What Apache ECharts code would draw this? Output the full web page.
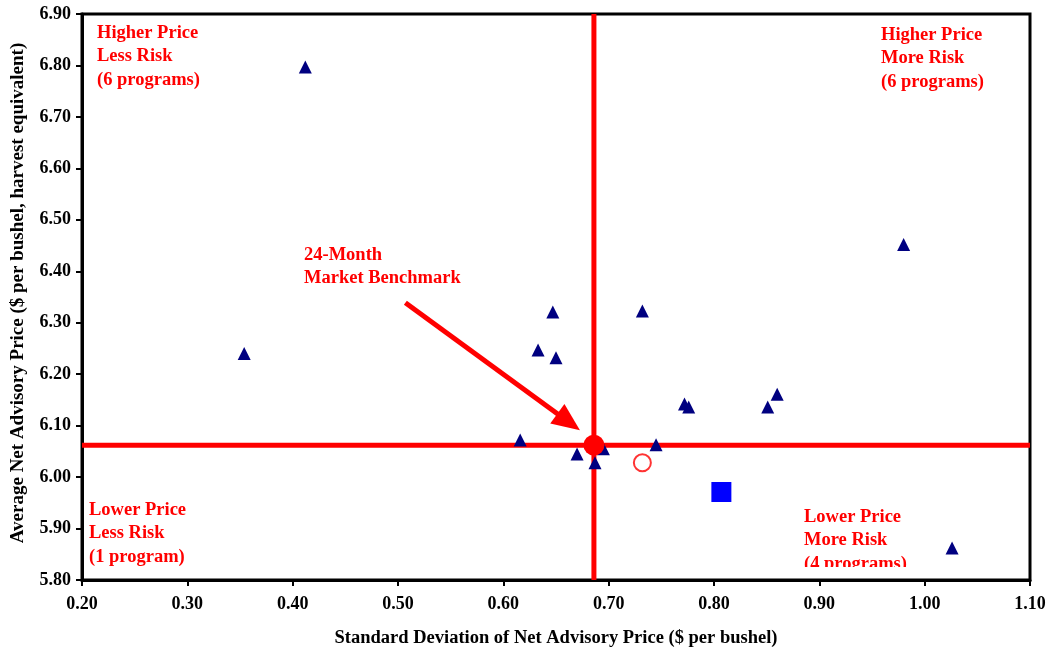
<!DOCTYPE html>
<html>
<head>
<meta charset="utf-8">
<script src="https://cdn.jsdelivr.net/npm/echarts@6/dist/echarts.min.js"></script>
<style>
html,body{margin:0;padding:0;background:#fff;}
#chart{width:1052px;height:654px;}
</style>
</head>
<body>
<div id="chart"></div>
<script>
// ---- data ----
const programX = [0.412, 0.354, 0.647, 0.633, 0.650, 0.616, 0.980, 0.732, 0.772, 0.776, 0.851, 0.860, 0.670, 1.026, 0.687, 0.695, 0.745];
const programY = [6.797, 6.240, 6.321, 6.247, 6.232, 6.072, 6.452, 6.323, 6.142, 6.136, 6.136, 6.161, 6.045, 5.862, 6.028, 6.055, 6.063];
const benchmarkX = [0.686];
const benchmarkY = [6.062];
const openCircleX = [0.732];
const openCircleY = [6.028];
const squareX = [0.807];
const squareY = [5.971];
const arrowFrom = [0.507, 6.339];
const arrowTo = [0.662, 6.107];
const xTicks = [0.2, 0.3, 0.4, 0.5, 0.6, 0.7, 0.8, 0.9, 1.0, 1.1];
const yTicks = [5.8, 5.9, 6.0, 6.1, 6.2, 6.3, 6.4, 6.5, 6.6, 6.7, 6.8, 6.9];
const xTitle = 'Standard Deviation of Net Advisory Price ($ per bushel)';
const yTitle = 'Average Net Advisory Price ($ per bushel, harvest equivalent)';
const quadrantHL = 'Higher Price\nLess Risk\n(6 programs)';
const quadrantHM = 'Higher Price\nMore Risk\n(6 programs)';
const quadrantLL = 'Lower Price\nLess Risk\n(1 program)';
const quadrantLM = 'Lower Price\nMore Risk\n(4 programs)';
const benchLabel = '24-Month\nMarket Benchmark';

const zip = (a, b) => a.map((v, i) => [v, b[i]]);
const FONT = '"Liberation Serif", "Times New Roman", serif';
const RED = '#FF0000';
const xMin = xTicks[0], xMax = xTicks[xTicks.length - 1];
const yMin = yTicks[0], yMax = yTicks[yTicks.length - 1];

const chart = echarts.init(document.getElementById('chart'), null, {renderer: 'canvas'});

const redText = (txt, x, y) => ({
  type: 'text', left: x, top: y, z: 50,
  style: {text: txt, fill: RED, font: 'bold 18.5px ' + FONT, lineHeight: 23.5}
});

const refLine = (data) => ({
  type: 'line', data: data, z: 1, silent: true, symbol: 'none',
  lineStyle: {color: RED, width: 5}, animation: false
});

chart.setOption({
  animation: false,
  backgroundColor: '#fff',
  grid: {left: 82, right: 22, top: 14, bottom: 74, show: true, borderColor: '#000', borderWidth: 3, backgroundColor: 'transparent'},
  xAxis: {
    type: 'value', min: xMin, max: xMax, interval: 0.1,
    axisLine: {show: true, onZero: false, lineStyle: {color: '#000', width: 3}},
    axisTick: {show: true, inside: false, length: 6, lineStyle: {color: '#000', width: 2}},
    splitLine: {show: false},
    axisLabel: {margin: 15, color: '#000', fontFamily: FONT, fontWeight: 'bold', fontSize: 18, formatter: v => v.toFixed(2)}
  },
  yAxis: {
    type: 'value', min: yMin, max: yMax, interval: 0.1,
    axisLine: {show: true, onZero: false, lineStyle: {color: '#000', width: 3}},
    axisTick: {show: true, inside: false, length: 6, lineStyle: {color: '#000', width: 2}},
    splitLine: {show: false},
    axisLabel: {margin: 11, color: '#000', fontFamily: FONT, fontWeight: 'bold', fontSize: 18, formatter: v => v.toFixed(2)}
  },
  series: [
    refLine([[benchmarkX[0], yMin], [benchmarkX[0], yMax]]),
    refLine([[xMin, benchmarkY[0]], [xMax, benchmarkY[0]]]),
    {
      type: 'scatter', name: 'programs', z: 3,
      symbol: 'triangle', symbolSize: 13,
      itemStyle: {color: '#000080', opacity: 1},
      data: zip(programX, programY)
    },
    {
      type: 'scatter', name: 'open', z: 3,
      symbol: 'emptyCircle', symbolSize: 17,
      itemStyle: {color: RED, borderColor: RED, borderWidth: 1.5},
      data: zip(openCircleX, openCircleY)
    },
    {
      type: 'scatter', name: 'square', z: 3,
      symbol: 'rect', symbolSize: 20,
      itemStyle: {color: '#0000FF', opacity: 1},
      data: zip(squareX, squareY)
    },
    {
      type: 'scatter', name: 'benchmark', z: 4,
      symbol: 'circle', symbolSize: 21,
      itemStyle: {color: RED, opacity: 1},
      data: zip(benchmarkX, benchmarkY),
      markLine: {
        silent: true, animation: false,
        symbol: ['none', 'triangle'], symbolSize: [24, 28],
        label: {show: false},
        lineStyle: {color: RED, width: 5, type: 'solid'},
        emphasis: {disabled: true},
        data: [[{coord: arrowFrom}, {coord: arrowTo}]]
      }
    }
  ],
  graphic: [
    redText(quadrantHL, 97, 21),
    redText(quadrantHM, 881, 23),
    redText(quadrantLL, 89, 498),
    redText(quadrantLM, 804, 505),
    {type: 'rect', z: 60, shape: {x: 800, y: 567, width: 125, height: 11}, style: {fill: '#fff'}},
    redText(benchLabel, 304, 243),
    {type: 'text', z: 50, x: 556, y: 638,
      style: {text: xTitle, fill: '#000', font: 'bold 18.5px ' + FONT, align: 'center', verticalAlign: 'middle'}},
    {type: 'text', z: 50, x: 18, y: 293, rotation: Math.PI / 2,
      style: {text: yTitle, fill: '#000', font: 'bold 19px ' + FONT, align: 'center', verticalAlign: 'middle'}}
  ]
});
</script>
</body>
</html>
